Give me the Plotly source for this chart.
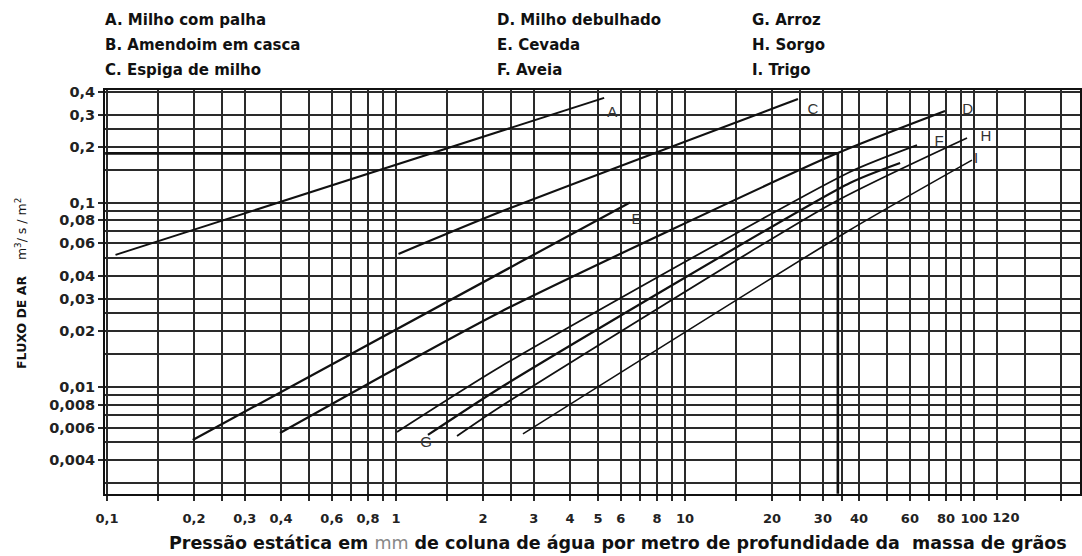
import plotly.graph_objects as go

# ---------------- data ----------------
legend_labels = [
    ["A. Milho com palha", "B. Amendoim em casca", "C. Espiga de milho"],
    ["D. Milho debulhado", "E. Cevada", "F. Aveia"],
    ["G. Arroz", "H. Sorgo", "I. Trigo"],
]

# curves (x: static pressure mm H2O / m, y: air flow m3/s/m2)
A_x = [0.107, 5.25]
A_y = [0.052, 0.37]
C_x = [1.02, 2.29, 24.6]
C_y = [0.0526, 0.0888, 0.365]
D_x = [0.397, 2.29, 32.5, 79.4]
D_y = [0.00561, 0.0254, 0.181, 0.314]
E_x = [0.198, 2.69, 6.45]
E_y = [0.00514, 0.0475, 0.100]
F_x = [1.008, 2.29, 37.2, 63.5]
F_y = [0.00568, 0.0128, 0.1466, 0.205]
G_x = [1.29, 2.29, 37.2, 55.5]
G_y = [0.00547, 0.00984, 0.1277, 0.164]
H_x = [1.626, 2.29, 32.5, 94.6]
H_y = [0.0054, 0.00776, 0.0995, 0.224]
I_x = [2.75, 37.2, 98.4]
I_y = [0.00554, 0.071, 0.170]

# reading example (thick guide line)
guide_x = [0.0985, 33.8, 33.8]
guide_y = [0.185, 0.185, 0.00262]

# curve labels
lab_text = ["A", "C", "D", "E", "F", "G", "H", "I"]
lab_x = [5.6, 27.7, 95.0, 6.8, 75.7, 1.27, 110.0, 101.6]
lab_y = [0.306, 0.318, 0.318, 0.0804, 0.213, 0.00495, 0.227, 0.172]

# axis ticks
x_ticks = [0.1, 0.2, 0.3, 0.4, 0.6, 0.8, 1, 2, 3, 4, 5, 6, 8, 10, 20, 30, 40, 60, 80, 100]
x_ticktext = ["0,1", "0,2", "0,3", "0,4", "0,6", "0,8", "1", "2", "3", "4", "5", "6", "8", "10",
              "20", "30", "40", "60", "80", "100"]
x_last_tick = [120]
x_last_text = ["120"]
x_minor = [0.15, 0.25, 0.5, 0.7, 0.9, 1.5, 2.5, 7, 9, 15, 25, 35, 50, 70, 90, 150, 200]

y_ticks = [0.4, 0.3, 0.2, 0.1, 0.08, 0.06, 0.04, 0.03, 0.02, 0.01, 0.008, 0.006, 0.004]
y_ticktext = ["0,4", "0,3", "0,2", "0,1", "0,08", "0,06", "0,04", "0,03", "0,02", "0,01",
              "0,008", "0,006", "0,004"]
y_minor = [0.25, 0.15, 0.09, 0.07, 0.05, 0.025, 0.015, 0.009, 0.007, 0.005, 0.003]

x_title = ("<b>Pressão estática em </b><span style='color:#888'>mm</span>"
           "<b> de coluna de água por metro de profundidade da  massa de grãos</b>")
y_title = "<b>FLUXO DE AR</b>    m<sup>3</sup>/ s / m<sup>2</sup>"

# ---------------- figure ----------------
fig = go.Figure()
curves = [("A", A_x, A_y, 2.0), ("C", C_x, C_y, 2.2), ("D", D_x, D_y, 2.2), ("E", E_x, E_y, 2.2),
          ("F", F_x, F_y, 1.8), ("G", G_x, G_y, 2.2), ("H", H_x, H_y, 1.8), ("I", I_x, I_y, 1.6)]
for name, xs, ys, w in curves:
    fig.add_trace(go.Scatter(x=xs, y=ys, mode="lines", name=name,
                             line=dict(color="#111", width=w, shape="spline", smoothing=0.6),
                             showlegend=False, hoverinfo="skip"))

fig.add_trace(go.Scatter(x=guide_x, y=guide_y, mode="lines", line=dict(color="#111", width=2.6),
                         showlegend=False, hoverinfo="skip"))

# curve letters (drawn on the overlaying x axis that shares the same scale)
fig.add_trace(go.Scatter(x=lab_x, y=lab_y, mode="text", text=lab_text, xaxis="x2",
                         textfont=dict(family="Liberation Sans, Arial, sans-serif", size=15, color="#333"),
                         showlegend=False, hoverinfo="skip"))

L, R, T, B = 105, 2, 90, 62
W, H = 1082, 556
pw, ph = W - L - R, H - T - B

col_px = [103, 495, 750]
row_px = [20, 45, 70]
for ci, col in enumerate(legend_labels):
    for ri, txt in enumerate(col):
        fig.add_annotation(text="<b>" + txt + "</b>", xref="paper", yref="paper",
                           x=(col_px[ci] - L) / pw, y=(H - B - row_px[ri]) / ph,
                           xanchor="left", yanchor="middle", showarrow=False,
                           font=dict(family="DejaVu Sans, Verdana, sans-serif", size=15, color="#111"))

fig.add_annotation(text=y_title, xref="paper", yref="paper", x=(21 - L) / pw, y=0.52,
                   xanchor="center", yanchor="middle", textangle=-90, showarrow=False,
                   font=dict(family="DejaVu Sans, Verdana, sans-serif", size=12.5, color="#111"))
fig.add_annotation(text=x_title, xref="paper", yref="paper", x=(618 - L) / pw, y=-(543 - (H - B)) / ph,
                   xanchor="center", yanchor="middle", showarrow=False,
                   font=dict(family="DejaVu Sans, Verdana, sans-serif", size=17.5, color="#111"))

grid_c = "#2a2a2a"
xfont = dict(family="DejaVu Sans, Verdana, sans-serif", size=13, color="#222", weight="bold")
x_range = [-1.0069, 2.3668]
fig.update_layout(
    xaxis=dict(type="log", range=x_range, tickmode="array", tickvals=x_ticks,
               ticktext=x_ticktext, tickangle=0, automargin=False, ticklabelstandoff=6,
               showgrid=True, gridcolor=grid_c, gridwidth=1.5,
               ticks="outside", ticklen=5, tickwidth=1.5, tickcolor=grid_c, tickfont=xfont,
               showline=True, linecolor="#111", linewidth=2, mirror=True, zeroline=False,
               minor=dict(tickmode="array", tickvals=x_minor, showgrid=True, gridcolor=grid_c,
                          gridwidth=1.5, ticks="outside", ticklen=5, tickwidth=1.5, tickcolor=grid_c)),
    xaxis2=dict(type="log", range=x_range, overlaying="x", matches="x", side="bottom",
                tickmode="array", tickvals=x_last_tick, ticktext=x_last_text, tickangle=0,
                automargin=False, ticklabelstandoff=6, ticklabelshift=9,
                showgrid=True, gridcolor=grid_c, gridwidth=1.5,
                ticks="outside", ticklen=5, tickwidth=1.5, tickcolor=grid_c, tickfont=xfont,
                showline=False, zeroline=False),
    yaxis=dict(type="log", range=[-2.5827, -0.3888], tickmode="array", tickvals=y_ticks,
               ticktext=y_ticktext, automargin=False,
               showgrid=True, gridcolor=grid_c, gridwidth=1.5,
               ticks="outside", ticklen=5, tickwidth=1.5, tickcolor=grid_c,
               tickfont=dict(family="DejaVu Sans, Verdana, sans-serif", size=14.5, color="#222", weight="bold"),
               showline=True, linecolor="#111", linewidth=2, mirror=True, zeroline=False,
               minor=dict(tickmode="array", tickvals=y_minor, showgrid=True, gridcolor=grid_c,
                          gridwidth=1.5, ticks="", ticklen=0)),
    width=W, height=H, margin=dict(l=L, r=R, t=T, b=B, autoexpand=False),
    paper_bgcolor="white", plot_bgcolor="white", showlegend=False,
)

fig.write_html("out.html", config={"displayModeBar": False},
               post_script="document.body.style.margin='0px';document.body.style.overflow='hidden';")
